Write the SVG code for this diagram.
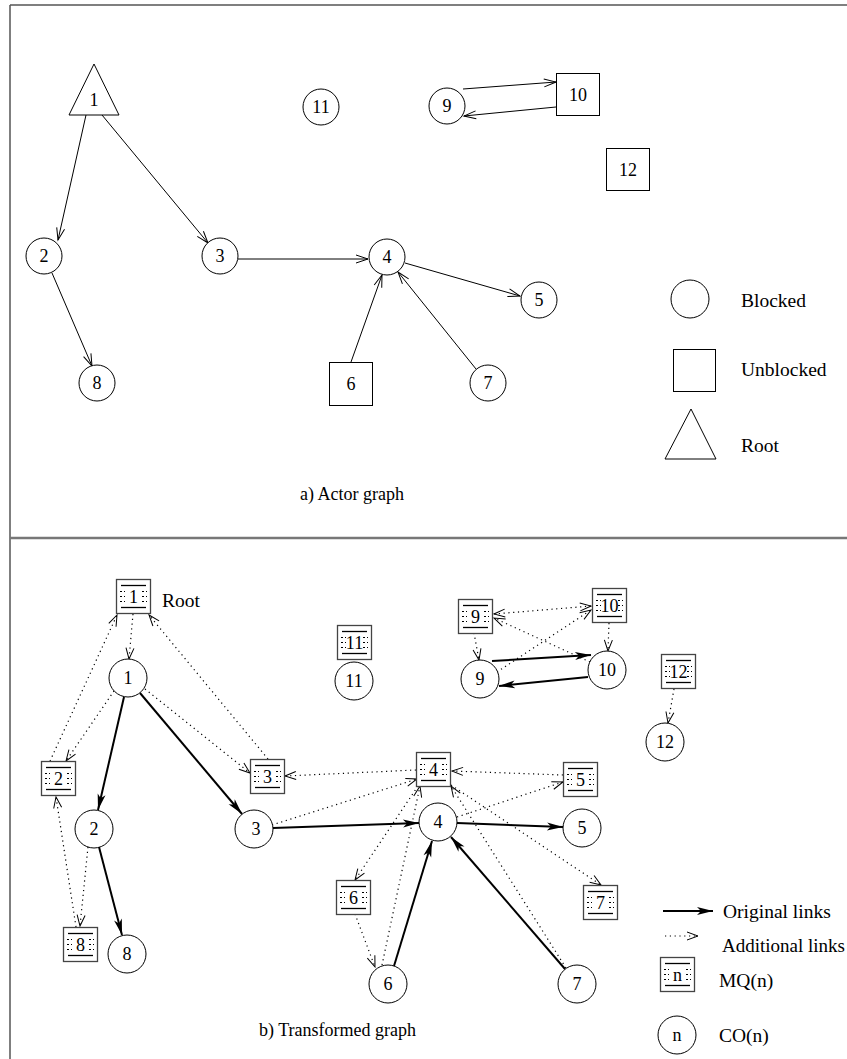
<svg xmlns="http://www.w3.org/2000/svg" xmlns:xlink="http://www.w3.org/1999/xlink" width="847" height="1059" viewBox="0 0 847 1059">
<style>
text{font-family:"Liberation Serif","Times New Roman",serif;fill:#000}
.lbl{font-size:18px;text-anchor:middle}
.cap{font-size:18px}
.leg{font-size:19.5px}
.shape{fill:#fff;stroke:#000;stroke-width:1}
.frame{stroke:#555;stroke-width:1.5;fill:none}
.thin{stroke:#000;stroke-width:1;fill:none;marker-end:url(#open)}
.bold{stroke:#000;stroke-width:2;fill:none;marker-end:url(#filled)}
.dot{stroke:#000;stroke-width:1.2;fill:none;stroke-dasharray:1.2 3.6;marker-end:url(#vopen)}
.mqbox{fill:#fff;stroke:#444;stroke-width:1.3}
.mqline{stroke:#000;stroke-width:1.3}
.mqdash{stroke:#000;stroke-width:1;stroke-dasharray:2 2}
</style>
<defs>
<marker id="open" markerUnits="userSpaceOnUse" markerWidth="14" markerHeight="10" refX="12" refY="4" orient="auto-start-reverse" overflow="visible">
<path d="M0,0 L12,4 L0,8" fill="none" stroke="#000" stroke-width="1"/>
</marker>
<marker id="vopen" markerUnits="userSpaceOnUse" markerWidth="14" markerHeight="10" refX="11" refY="4" orient="auto-start-reverse" overflow="visible">
<path d="M0,0 L11,4 L0,8" fill="none" stroke="#000" stroke-width="1"/>
</marker>
<marker id="filled" markerUnits="userSpaceOnUse" markerWidth="18" markerHeight="10" refX="16" refY="4" orient="auto" overflow="visible">
<path d="M0,0 L16,4 L0,8 L4,4 Z" fill="#000" stroke="none"/>
</marker>
<g id="mq">
<rect class="mqbox" x="0.5" y="0.5" width="34" height="34"/>
<line class="mqline" x1="5" y1="6.5" x2="30" y2="6.5"/>
<line class="mqline" x1="5" y1="28.5" x2="30" y2="28.5"/>
<line class="mqdash" x1="4" y1="12.5" x2="9" y2="12.5"/>
<line class="mqdash" x1="4" y1="17.5" x2="9" y2="17.5"/>
<line class="mqdash" x1="4" y1="22.5" x2="9" y2="22.5"/>
<line class="mqdash" x1="26" y1="12.5" x2="31" y2="12.5"/>
<line class="mqdash" x1="26" y1="17.5" x2="31" y2="17.5"/>
<line class="mqdash" x1="26" y1="22.5" x2="31" y2="22.5"/>
</g>
</defs>

<g id="frame">
<line class="frame" x1="10" y1="5" x2="847" y2="5"/>
<line class="frame" x1="10" y1="5" x2="10" y2="1059"/>
<line x1="10" y1="538" x2="847" y2="538" stroke="#777" stroke-width="2.5"/>
</g>

<!-- ===== a) Actor graph ===== -->
<g id="a-connectors">
<line class="thin" x1="86" y1="115" x2="58" y2="240"/>
<line class="thin" x1="102" y1="115" x2="208" y2="243"/>
<line class="thin" x1="238" y1="259" x2="368" y2="259"/>
<line class="thin" x1="405" y1="263" x2="520" y2="296"/>
<line class="thin" x1="351" y1="362" x2="382" y2="275"/>
<line class="thin" x1="476" y1="369" x2="398" y2="272"/>
<line class="thin" x1="52" y1="273" x2="92" y2="366"/>
<line class="thin" x1="463" y1="89" x2="556" y2="82"/>
<line class="thin" x1="556" y1="107" x2="464" y2="116"/>
</g>
<g id="a1"><polygon class="shape" points="94,64 119,115 69,115"/><text class="lbl" x="94" y="106">1</text></g>
<g id="a2"><circle class="shape" cx="44" cy="256" r="18"/><text class="lbl" x="44" y="262">2</text></g>
<g id="a3"><circle class="shape" cx="220" cy="256" r="18"/><text class="lbl" x="220" y="262">3</text></g>
<g id="a4"><circle class="shape" cx="387" cy="257" r="18"/><text class="lbl" x="387" y="263">4</text></g>
<g id="a5"><circle class="shape" cx="539" cy="300" r="18"/><text class="lbl" x="539" y="306">5</text></g>
<g id="a6"><rect class="shape" x="329.5" y="362.5" width="43" height="43"/><text class="lbl" x="351" y="390">6</text></g>
<g id="a7"><circle class="shape" cx="488" cy="383" r="18"/><text class="lbl" x="488" y="389">7</text></g>
<g id="a8"><circle class="shape" cx="97" cy="383" r="18"/><text class="lbl" x="97" y="389">8</text></g>
<g id="a9"><circle class="shape" cx="447" cy="106" r="18"/><text class="lbl" x="447" y="112">9</text></g>
<g id="a10"><rect class="shape" x="556.5" y="73.5" width="43" height="42"/><text class="lbl" x="578" y="101">10</text></g>
<g id="a11"><circle class="shape" cx="321" cy="107" r="18"/><text class="lbl" x="321" y="113">11</text></g>
<g id="a12"><rect class="shape" x="606.5" y="148.5" width="43" height="42"/><text class="lbl" x="628" y="176">12</text></g>

<g id="a-legend">
<circle class="shape" cx="690" cy="299" r="19"/>
<text class="leg" x="741" y="307">Blocked</text>
<rect class="shape" x="673.5" y="349.5" width="42" height="42"/>
<text class="leg" x="741" y="376">Unblocked</text>
<polygon class="shape" points="691,409 716,459 665,459"/>
<text class="leg" x="741" y="452">Root</text>
</g>
<text class="cap" x="300" y="500">a) Actor graph</text>

<!-- ===== b) Transformed graph ===== -->
<g id="b-connectors">
<!-- original links -->
<line class="bold" x1="124" y1="697" x2="98" y2="810"/>
<line class="bold" x1="140" y1="693" x2="242" y2="814"/>
<line class="bold" x1="99" y1="847" x2="122" y2="935"/>
<line class="bold" x1="273" y1="828" x2="419" y2="823"/>
<line class="bold" x1="457" y1="823" x2="563" y2="827"/>
<line class="bold" x1="394" y1="966" x2="432" y2="841"/>
<line class="bold" x1="565" y1="969" x2="451" y2="837"/>
<line class="bold" x1="492" y1="661" x2="591" y2="655"/>
<line class="bold" x1="588" y1="677" x2="499" y2="686"/>
<!-- additional links -->
<line class="dot" x1="133" y1="614" x2="129" y2="659"/>
<line class="dot" x1="50" y1="761" x2="117" y2="615"/>
<line class="dot" x1="268" y1="759" x2="149" y2="615"/>
<line class="dot" x1="114" y1="691" x2="66" y2="761"/>
<line class="dot" x1="145" y1="689" x2="250" y2="773"/>
<line class="dot" x1="416" y1="770" x2="285" y2="776"/>
<line class="dot" x1="76" y1="927" x2="56" y2="797"/>
<line class="dot" x1="88" y1="847" x2="80" y2="926"/>
<line class="dot" x1="272" y1="825" x2="417" y2="779"/>
<line class="dot" x1="563" y1="775" x2="452" y2="771"/>
<line class="dot" x1="457" y1="817" x2="563" y2="782"/>
<line class="dot" x1="382" y1="965" x2="420" y2="786"/>
<line class="dot" x1="418" y1="786" x2="355" y2="880"/>
<line class="dot" x1="355" y1="914" x2="375" y2="967"/>
<line class="dot" x1="566" y1="968" x2="451" y2="786"/>
<line class="dot" x1="451" y1="785" x2="601" y2="885"/>
<line class="dot" x1="474" y1="633" x2="479" y2="660"/>
<line class="dot" x1="609" y1="623" x2="608" y2="651"/>
<line class="dot" x1="494" y1="614" x2="591" y2="606" style="marker-start:url(#vopen)"/>
<line class="dot" x1="590" y1="662" x2="494" y2="618"/>
<line class="dot" x1="497" y1="672" x2="591" y2="610"/>
<line class="dot" x1="674" y1="689" x2="668" y2="723"/>
</g>

<g id="mq1"><use xlink:href="#mq" x="116" y="579"/><text class="lbl" x="133.5" y="603">1</text></g>
<text class="leg" x="162" y="607">Root</text>
<g id="mq2"><use xlink:href="#mq" x="41" y="761"/><text class="lbl" x="58.5" y="785">2</text></g>
<g id="mq3"><use xlink:href="#mq" x="250" y="759"/><text class="lbl" x="267.5" y="783">3</text></g>
<g id="mq4"><use xlink:href="#mq" x="416" y="752"/><text class="lbl" x="433.5" y="776">4</text></g>
<g id="mq5"><use xlink:href="#mq" x="563" y="762"/><text class="lbl" x="580.5" y="786">5</text></g>
<g id="mq6"><use xlink:href="#mq" x="336" y="880"/><text class="lbl" x="353.5" y="904">6</text></g>
<g id="mq7"><use xlink:href="#mq" x="583" y="885"/><text class="lbl" x="600.5" y="909">7</text></g>
<g id="mq8"><use xlink:href="#mq" x="63" y="927"/><text class="lbl" x="80.5" y="951">8</text></g>
<g id="mq9"><use xlink:href="#mq" x="458" y="599"/><text class="lbl" x="475.5" y="623">9</text></g>
<g id="mq10"><use xlink:href="#mq" x="592" y="588"/><text class="lbl" x="609.5" y="612">10</text></g>
<g id="mq11"><use xlink:href="#mq" x="337" y="625"/><text class="lbl" x="354.5" y="649">11</text></g>
<g id="mq12"><use xlink:href="#mq" x="661" y="654"/><text class="lbl" x="678.5" y="678">12</text></g>

<g id="co1"><circle class="shape" cx="128" cy="678" r="19"/><text class="lbl" x="128" y="684">1</text></g>
<g id="co2"><circle class="shape" cx="94" cy="829" r="19"/><text class="lbl" x="94" y="835">2</text></g>
<g id="co3"><circle class="shape" cx="254" cy="829" r="19"/><text class="lbl" x="256" y="835">3</text></g>
<g id="co4"><circle class="shape" cx="438" cy="822" r="19"/><text class="lbl" x="438" y="828">4</text></g>
<g id="co5"><circle class="shape" cx="582" cy="828" r="19"/><text class="lbl" x="582" y="834">5</text></g>
<g id="co6"><circle class="shape" cx="388" cy="984" r="19"/><text class="lbl" x="388" y="990">6</text></g>
<g id="co7"><circle class="shape" cx="577" cy="984" r="19"/><text class="lbl" x="577" y="990">7</text></g>
<g id="co8"><circle class="shape" cx="127" cy="954" r="19"/><text class="lbl" x="127" y="960">8</text></g>
<g id="co9"><circle class="shape" cx="480" cy="679" r="19"/><text class="lbl" x="480" y="685">9</text></g>
<g id="co10"><circle class="shape" cx="607" cy="670" r="19"/><text class="lbl" x="607" y="676">10</text></g>
<g id="co11"><circle class="shape" cx="354" cy="681" r="19"/><text class="lbl" x="354" y="687">11</text></g>
<g id="co12"><circle class="shape" cx="665" cy="742" r="19"/><text class="lbl" x="665" y="748">12</text></g>

<g id="b-legend">
<line class="bold" x1="663" y1="911" x2="713" y2="911"/>
<text class="leg" x="723" y="918">Original links</text>
<line class="dot" x1="665" y1="936" x2="698" y2="936"/>
<text class="leg" x="722" y="952" style="font-size:19px">Additional links</text>
<use xlink:href="#mq" x="660" y="957"/><text class="lbl" x="677.5" y="981">n</text>
<text class="leg" x="719" y="987">MQ(n)</text>
<circle class="shape" cx="677" cy="1035" r="19"/><text class="lbl" x="677" y="1041">n</text>
<text class="leg" x="719" y="1042">CO(n)</text>
</g>
<text class="cap" x="259" y="1036">b) Transformed graph</text>
</svg>
